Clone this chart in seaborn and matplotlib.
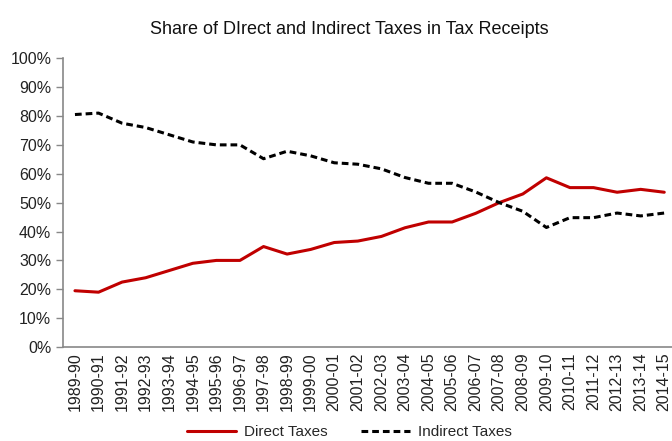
import numpy as np
import pandas as pd
import seaborn as sns
import matplotlib.pyplot as plt
from matplotlib import font_manager
from matplotlib.ticker import FixedLocator, PercentFormatter

years = ['1989-90', '1990-91', '1991-92', '1992-93', '1993-94', '1994-95', '1995-96',
         '1996-97', '1997-98', '1998-99', '1999-00', '2000-01', '2001-02', '2002-03',
         '2003-04', '2004-05', '2005-06', '2006-07', '2007-08', '2008-09', '2009-10',
         '2010-11', '2011-12', '2012-13', '2013-14', '2014-15']
direct = [19.5, 19.0, 22.5, 24.0, 26.5, 29.0, 30.0, 30.0, 34.8, 32.2, 33.8, 36.2, 36.7,
          38.3, 41.3, 43.3, 43.3, 46.3, 50.0, 53.0, 58.6, 55.2, 55.2, 53.6, 54.6, 53.6]
indirect = [80.5, 81.0, 77.5, 76.0, 73.5, 71.0, 70.0, 70.0, 65.2, 67.8, 66.2, 63.8, 63.3,
            61.7, 58.7, 56.7, 56.7, 53.7, 50.0, 47.0, 41.4, 44.8, 44.8, 46.4, 45.4, 46.4]

sns.set_style('white')
names = {f.name for f in font_manager.fontManager.ttflist}
narrow = 'Liberation Sans Narrow' if 'Liberation Sans Narrow' in names else 'Liberation Sans'
plt.rcParams['font.family'] = [narrow, 'DejaVu Sans']

pos = np.arange(len(years))
df = pd.DataFrame({'pos': np.concatenate([pos, pos]),
                   'share': direct + indirect,
                   'series': ['Direct Taxes'] * len(years) + ['Indirect Taxes'] * len(years)})

fig = plt.figure(figsize=(6.72, 4.41), dpi=100)
ax = fig.add_axes([0.094, 0.213, 0.912, 0.655])
sns.lineplot(data=df, x='pos', y='share', hue='series', style='series',
             palette={'Direct Taxes': '#C00000', 'Indirect Taxes': '#000000'},
             dashes={'Direct Taxes': '', 'Indirect Taxes': (2.2, 1.3)},
             linewidth=2.2, ax=ax, legend=True)

ax.set_xlim(-0.5, len(years) - 0.5)
ax.set_ylim(0, 100)
ax.yaxis.set_major_locator(FixedLocator(np.arange(0, 101, 10)))
ax.yaxis.set_major_formatter(PercentFormatter(decimals=0))
ax.set_xticks(pos)
ax.set_xticklabels(years, rotation=90, fontsize=11.5, color='#222222')
ax.xaxis.set_minor_locator(FixedLocator(np.arange(-0.5, len(years), 1)))
ax.tick_params(axis='x', which='major', length=0, pad=4)
ax.tick_params(axis='x', which='minor', length=5, width=1, color='#888888', direction='out')
ax.tick_params(axis='y', length=5, width=1, color='#888888', labelsize=11.5,
               labelcolor='#222222', direction='out', left=True)
for side in ['top', 'right']:
    ax.spines[side].set_visible(False)
for side in ['left', 'bottom']:
    ax.spines[side].set_color('#888888')
    ax.spines[side].set_linewidth(1.2)
ax.set_xlabel('')
ax.set_ylabel('')

handles, labels = ax.get_legend_handles_labels()
ax.get_legend().remove()
fig.legend(handles, labels, loc='center', bbox_to_anchor=(0.52, 1 - 432 / 441), ncol=2,
           frameon=False, fontsize=11, handlelength=3.2, handletextpad=0.5,
           columnspacing=2.2, borderpad=0.1)

fig.suptitle('Share of DIrect and Indirect Taxes in Tax Receipts', x=349 / 672,
             y=1 - 30 / 441, va='center', fontsize=13, color='#111111')
fig.savefig('out.png', dpi=100)
